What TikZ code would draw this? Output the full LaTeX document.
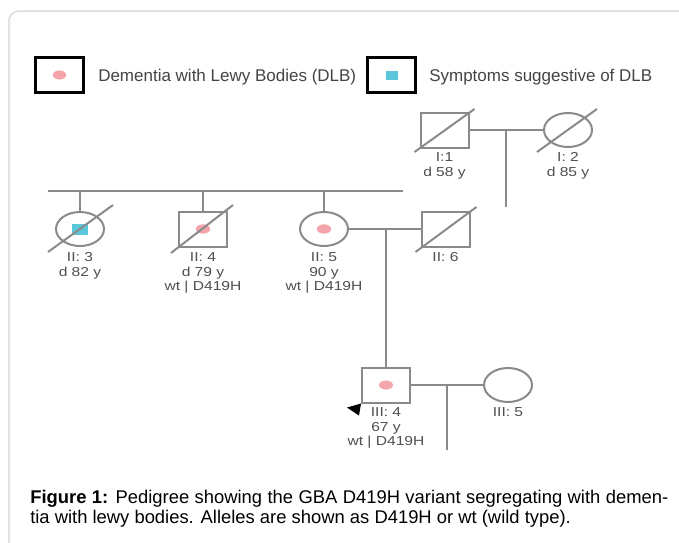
\documentclass[tikz,border=0pt]{standalone}
\usepackage{fontspec}
\usepackage{graphicx}
\setmainfont{Liberation Sans}
\usetikzlibrary{shapes.geometric}
\definecolor{pedgray}{HTML}{8A8A8A}
\definecolor{lblgray}{HTML}{505050}
\definecolor{legtext}{HTML}{444444}
\definecolor{dotpink}{HTML}{F4A5AB}
\definecolor{dotcyan}{HTML}{5CC6DA}
\definecolor{framegray}{HTML}{E2E2E2}
\newcommand\lblfont{\fontsize{9.75pt}{11pt}\selectfont}
\newcommand\lbltext[1]{\scalebox{1.2}[1]{#1}}
\tikzset{
  pl/.style={draw=pedgray, line width=1.5pt},
  sq/.style={pl, rectangle, minimum width=36pt, minimum height=26.25pt, inner sep=0pt, fill=white},
  ci/.style={pl, ellipse, minimum width=36pt, minimum height=25.5pt, inner sep=0pt, fill=white},
  legbox/.style={draw=black, line width=1.8pt, rectangle, minimum width=36pt, minimum height=26.5pt, inner sep=0pt},
  legtxt/.style={font=\fontsize{12.75pt}{14pt}\selectfont, text=legtext, inner sep=0pt, anchor=base west},
  lbl/.style={font=\lblfont, text=lblgray, inner sep=0pt, anchor=base},
  pdot/.style={fill=dotpink},
}
\begin{document}
\begin{tikzpicture}[x=0.75pt, y=-0.75pt]
\useasboundingbox (0,0) rectangle (679,543);
\fill[white] (0,0) rectangle (679,543);
% frame
\draw[framegray, line width=1.5pt] (9,543) -- (9,21) arc[start angle=180, end angle=90, radius=7.5pt] -- (679,11);

% legend
\node[legbox] (L1) at (59.5,75) {};
\fill[pdot] (L1.center) ellipse [x radius=5pt, y radius=3.4pt];
\node[legtxt] (L1t) at (98,81) {Dementia with Lewy Bodies (DLB)};
\node[legbox] (L2) at (391.5,75) {};
\fill[dotcyan] ([shift={(-6,-4.5)}]L2.center) rectangle ([shift={(6,4.5)}]L2.center);
\node[legtxt] (L2t) at (429,81) {Symptoms suggestive of DLB};

% generation I
\node[sq] (I1) at (444.5,130) {};
\node[ci] (I2) at (568,130) {};
\draw[pl] (I1) -- (I2);
\coordinate (m1) at (506,130);
\coordinate (m1b) at (506,207);
\draw[pl] (m1) -- (m1b);
\draw[pl] ([shift={(-30,22)}]I1.center) -- ([shift={(30,-21)}]I1.center);
\draw[pl] ([shift={(-31,22)}]I2.center) -- ([shift={(29,-21)}]I2.center);
\node[lbl] (I1a) at (444.5,161.5) {\lbltext{I:1}};
\node[lbl] (I1b) at (444.5,176) {\lbltext{d 58 y}};
\node[lbl] (I2a) at (568,161.5) {\lbltext{I: 2}};
\node[lbl] (I2b) at (568,176) {\lbltext{d 85 y}};

% generation II
\coordinate (s1) at (48,191);
\coordinate (s2) at (403,191);
\draw[pl] (s1) -- (s2);
\node[ci] (II3) at (80,229) {};
\node[sq] (II4) at (203,229) {};
\node[ci] (II5) at (324,229) {};
\node[sq] (II6) at (445.5,229) {};
\draw[pl] (II3.north |- s1) -- (II3.north);
\draw[pl] (II4.north |- s1) -- (II4.north);
\draw[pl] (II5.north |- s1) -- (II5.north);
\draw[pl] (II5) -- (II6);
\coordinate (m2) at (386,229);
\fill[dotcyan] ([shift={(-8,-5.5)}]II3.center) rectangle ([shift={(8,5.5)}]II3.center);
\fill[pdot] (II4.center) ellipse [x radius=5.4pt, y radius=3.5pt];
\fill[pdot] (II5.center) ellipse [x radius=5.4pt, y radius=3.5pt];
\draw[pl] ([shift={(-32,23)}]II3.center) -- ([shift={(33,-24)}]II3.center);
\draw[pl] ([shift={(-32,24)}]II4.center) -- ([shift={(30,-24)}]II4.center);
\draw[pl] ([shift={(-30,23)}]II6.center) -- ([shift={(31,-22)}]II6.center);
\node[lbl] (II3a) at (80,261.5) {\lbltext{II: 3}};
\node[lbl] (II3b) at (80,276) {\lbltext{d 82 y}};
\node[lbl] (II4a) at (203,261.5) {\lbltext{II: 4}};
\node[lbl] (II4b) at (203,276) {\lbltext{d 79 y}};
\node[lbl] (II4c) at (203,290.5) {\lbltext{wt | D419H}};
\node[lbl] (II5a) at (324,261.5) {\lbltext{II: 5}};
\node[lbl] (II5b) at (324,276) {\lbltext{90 y}};
\node[lbl] (II5c) at (324,290.5) {\lbltext{wt | D419H}};
\node[lbl] (II6a) at (445.5,261.5) {\lbltext{II: 6}};

% generation III
\node[sq] (III4) at (386,385) {};
\node[ci] (III5) at (508,385) {};
\draw[pl] (m2) -- (III4.north);
\draw[pl] (III4) -- (III5);
\coordinate (m3) at (447,385);
\coordinate (m3b) at (447,450);
\draw[pl] (m3) -- (m3b);
\fill[pdot] (III4.center) ellipse [x radius=5.2pt, y radius=3.4pt];
\fill[black] ([shift={(-14,4)}]III4.south west) -- (III4.south west) -- ([shift={(-2,12)}]III4.south west) -- cycle;
\node[lbl] (III4a) at (386,416.5) {\lbltext{III: 4}};
\node[lbl] (III4b) at (386,431) {\lbltext{67 y}};
\node[lbl] (III4c) at (386,445.5) {\lbltext{wt | D419H}};
\node[lbl] (III5a) at (508,416.5) {\lbltext{III: 5}};

% caption
\node[anchor=north west, inner sep=0pt, text width=478.5pt, align=justify,
      font=\fontsize{13.8pt}{15pt}\selectfont] (cap) at (30,490)
  {\textbf{Figure 1:} Pedigree showing the GBA D419H variant segregating with demen-\linebreak tia with lewy bodies. Alleles are shown as D419H or wt (wild type).};
\end{tikzpicture}
\end{document}
